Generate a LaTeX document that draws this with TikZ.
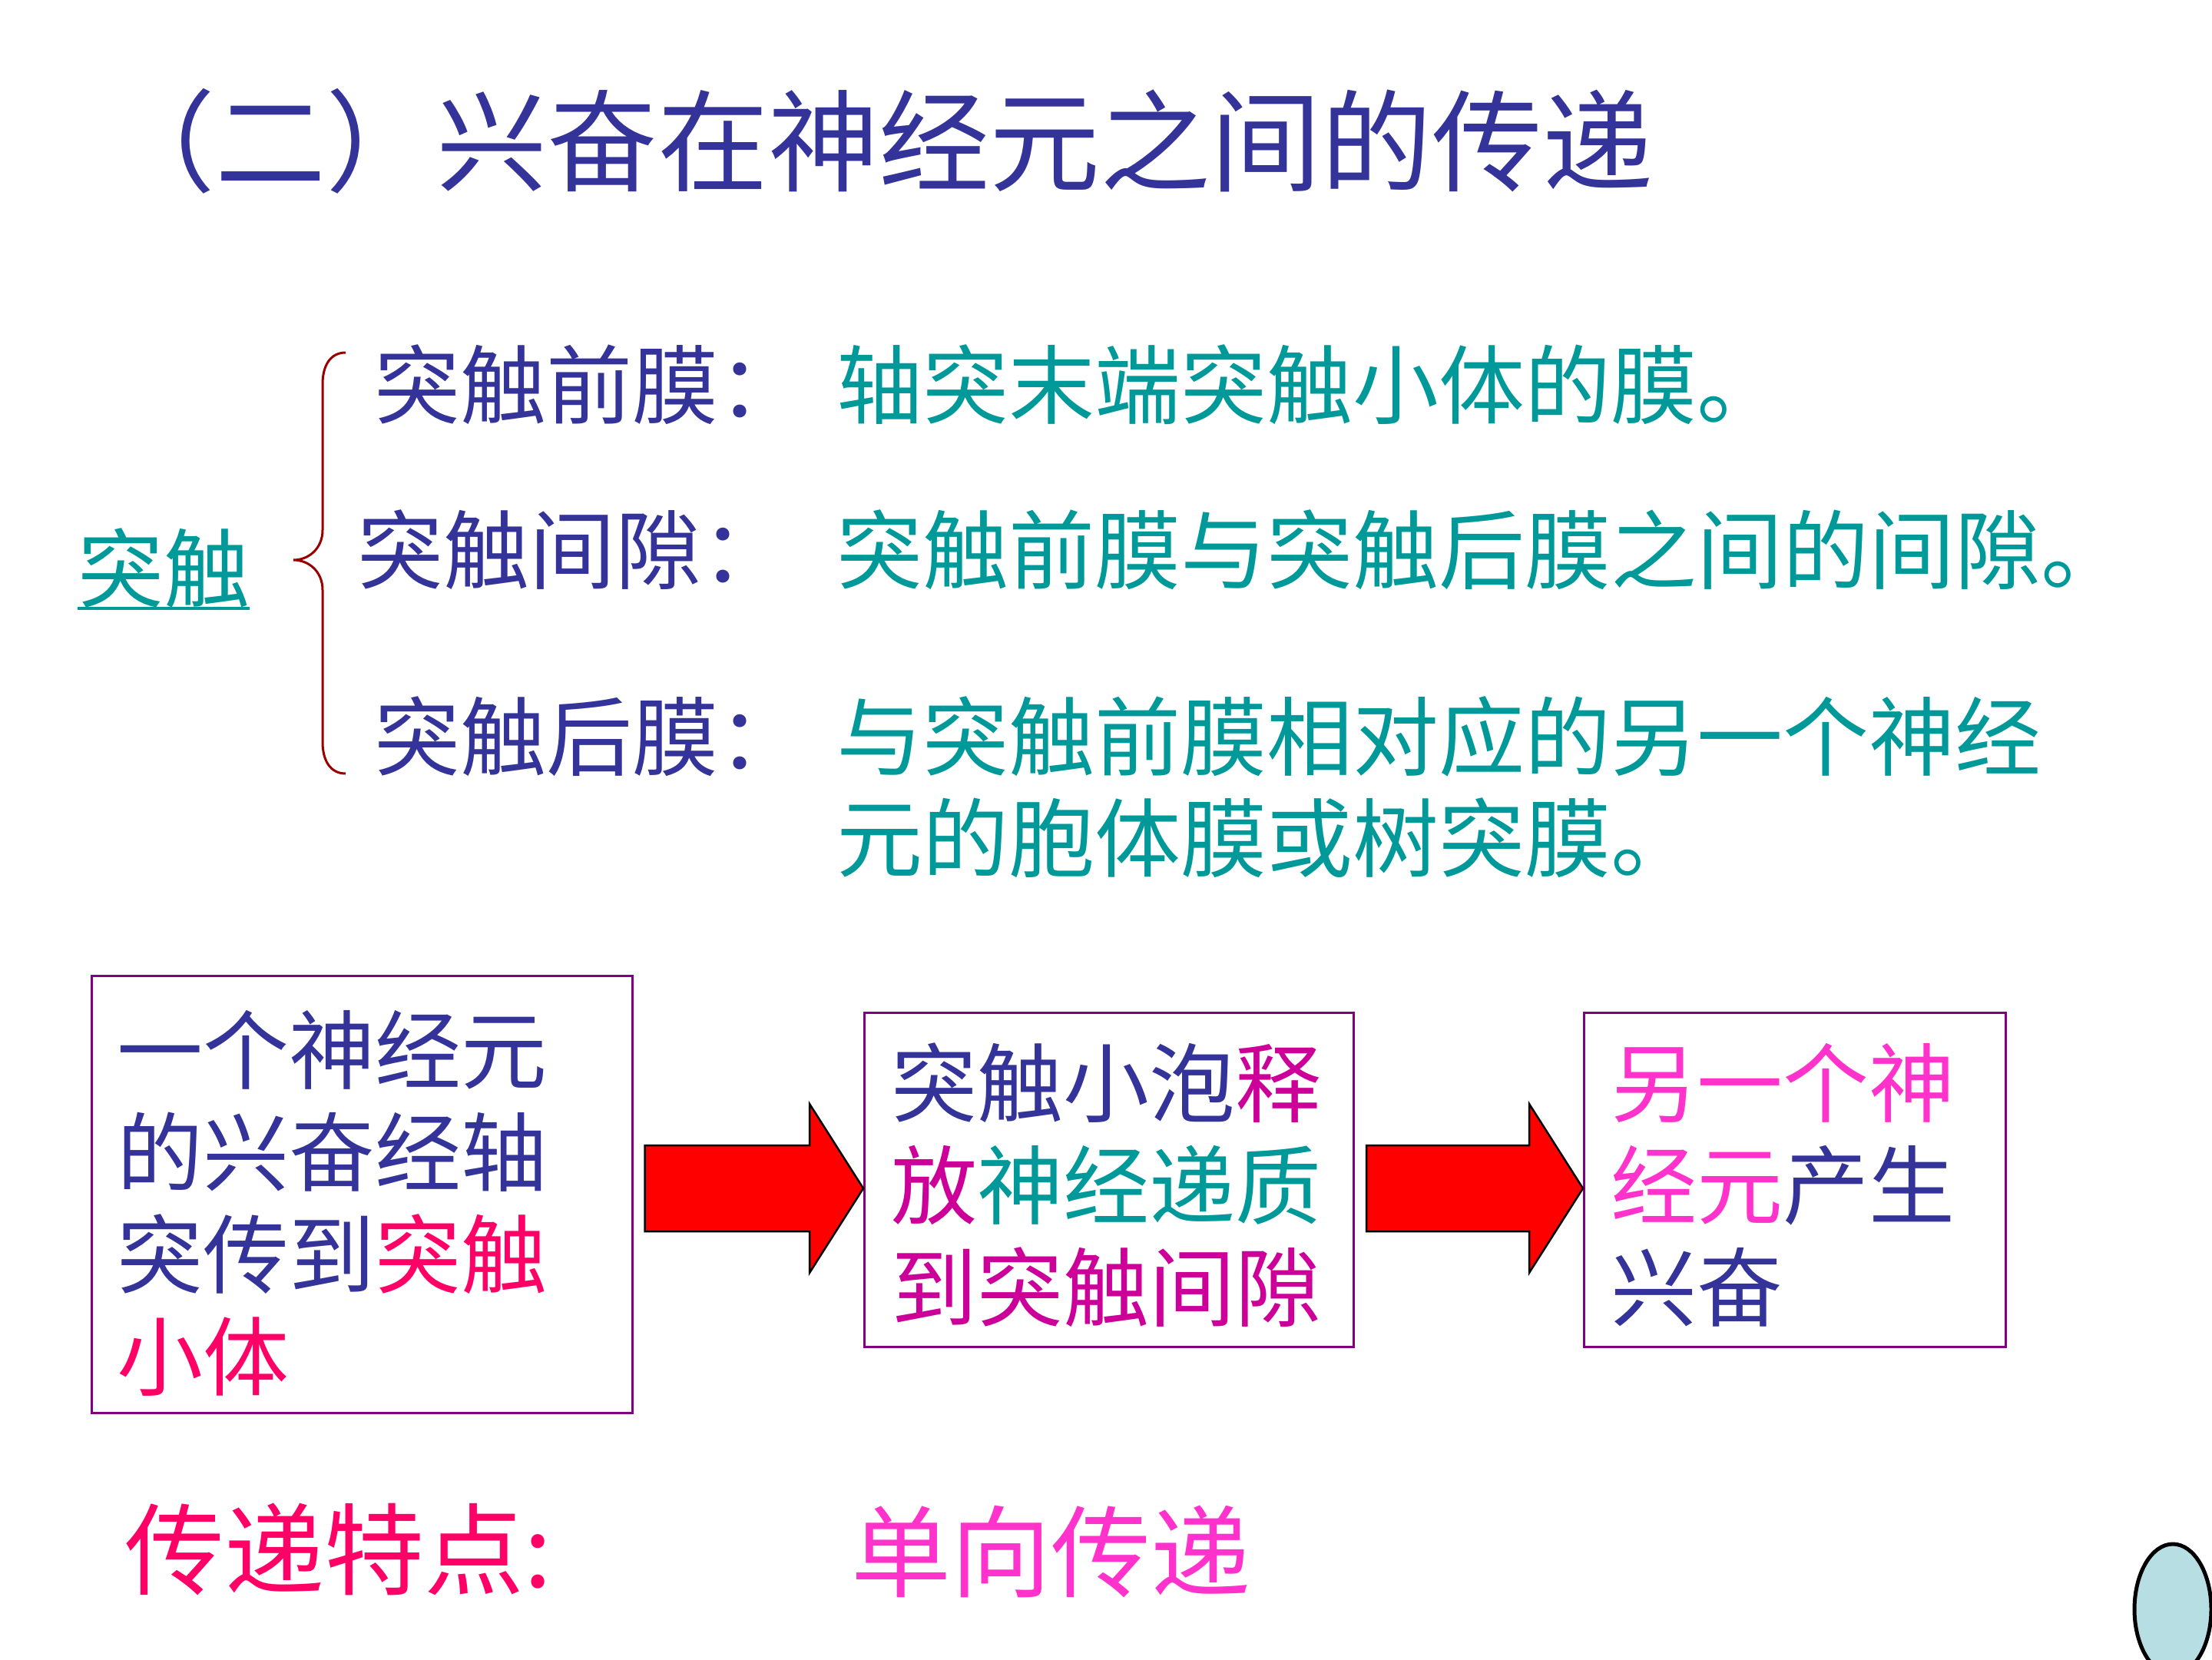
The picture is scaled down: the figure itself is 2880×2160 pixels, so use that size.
\documentclass[tikz,border=0pt]{standalone}
\usepackage{fontspec}
\setmainfont{Noto Sans CJK SC}
\usepackage{tikz}
\usetikzlibrary{
    positioning,
    calc
}
\definecolor{slideblue}{HTML}{333399}
\definecolor{slideteal}{HTML}{009999}
\definecolor{slidered}{HTML}{FF0066}
\definecolor{slidemagenta}{HTML}{CC0099}
\definecolor{slidepink}{HTML}{FF33CC}
\definecolor{boxpurple}{HTML}{800080}
\definecolor{bracered}{HTML}{990000}
\definecolor{ovalblue}{HTML}{B7DEE3}
\tikzset{
    term/.style={
        anchor=west,
        inner sep=0pt,
        text=slideblue,
        font=\fontsize{112}{131}\selectfont
    },
    defn/.style={
        term,
        text=slideteal
    },
    stepbox/.style={
        draw=boxpurple,
        line width=3pt,
        align=left,
        inner ysep=0pt,
        text=slideblue,
        font=\fontsize{112}{133}\selectfont
    },
    bigarrow/.style={
        fill=red,
        draw=black,
        line width=2.5pt,
        line join=miter
    }
}

\begin{document}
\begin{tikzpicture}[
    x=1pt,
    y=-1pt
]
    \useasboundingbox (0,0) rectangle (2880,2160);

    % Titulo
    \node[anchor=west, inner sep=0pt, text=slideblue,
          font=\fontsize{144}{160}\selectfont]
        (title) at (136,184) {（二）兴奋在神经元之间的传递};

    % Sinapsis
    \node[term, text=slideteal] (syn) at (101,740) {突触};
    \draw[slideteal, line width=4pt] (syn.south west) -- (syn.south east);

    \draw[bracered, line width=3pt]
        (450,459) .. controls (430,459) and (420,476) .. (420,500)
        -- (420,690) .. controls (420,714) and (402,729) .. (382,729)
        .. controls (402,729) and (420,744) .. (420,768)
        -- (420,966) .. controls (420,990) and (430,1007) .. (450,1007);

    \node[term] (pre)  at (487,501) {突触前膜：};
    \node[term] (gap)  at (465,716) {突触间隙：};
    \node[term] (post) at (487,959) {突触后膜：};

    \node[defn] (predef)   at (1089,501)  {轴突末端突触小体的膜。};
    \node[defn] (gapdef)   at (1089,716)  {突触前膜与突触后膜之间的间隙。};
    \node[defn] (postdef)  at (1089,959)  {与突触前膜相对应的另一个神经};
    \node[defn] (postdefb) at (1089,1091) {元的胞体膜或树突膜。};

    % Cajas
    \node[stepbox, inner xsep=33pt, text width=638pt, minimum height=569pt]
        (b1) at (471,1555)
        {\rule{0pt}{118pt}一个神经元\\的兴奋经轴\\突传到\textcolor{slidered}{突触}\\\textcolor{slidered}{小体}};
    \node[stepbox, inner xsep=35pt, text width=567pt, minimum height=435pt]
        (b2) at (1444,1536)
        {\rule{0pt}{108pt}突触小泡\textcolor{slidemagenta}{释}\\\textcolor{slidemagenta}{放}\textcolor{slideteal}{神经递质}\\\textcolor{slidemagenta}{到突触间隙}};
    \node[stepbox, inner xsep=35pt, text width=479pt, minimum height=435pt]
        (b3) at (2337,1536)
        {\rule{0pt}{108pt}\textcolor{slidepink}{另一个神}\\\textcolor{slidepink}{经元}产生\\兴奋};

    % Flechas
    \foreach \from/\to in {b1/b2, b2/b3} {
        \coordinate (tip) at ($(\to.west)+(0,11)$);
        \coordinate (tail) at ($(\from.east |- tip)+(15,0)$);
        \draw[bigarrow]
            ($(tail)+(0,-56)$) -- ($(tip)+(-70,-56)$)
            -- ($(tip)+(-70,-110)$) -- (tip)
            -- ($(tip)+(-70,110)$) -- ($(tip)+(-70,56)$)
            -- ($(tail)+(0,56)$) -- cycle;
    }

    % Caracteristica
    \node[anchor=west, inner sep=0pt, text=slidered,
          font=\fontsize{130}{150}\selectfont]
        (feat) at (162,2017) {传递特点:};
    \node[anchor=west, inner sep=0pt, text=slidepink,
          font=\fontsize{130}{150}\selectfont]
        (oneway) at (1108,2020) {单向传递};

    \begin{scope}
        \clip (0,0) rectangle (2880,2160);
        \draw[fill=ovalblue, draw=black, line width=5pt]
            (2829,2095) ellipse [x radius=50, y radius=85];
    \end{scope}

\end{tikzpicture}
\end{document}
